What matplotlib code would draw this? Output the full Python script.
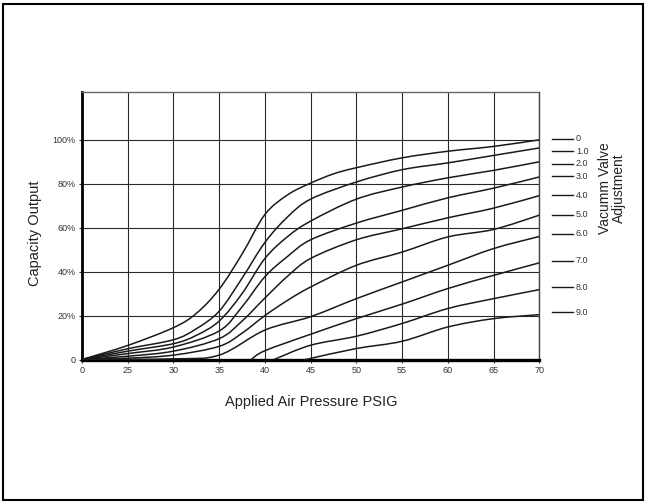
import numpy as np
import matplotlib
matplotlib.use("Agg")
from matplotlib import pyplot as plt
from matplotlib.patches import Rectangle, PathPatch
from matplotlib.path import Path

plt.rcParams['font.family'] = ['Liberation Sans', 'DejaVu Sans']

# Datos (presion en PSIG, capacidad en %)
press_ticks = [0, 25, 30, 35, 40, 45, 50, 55, 60, 65, 70]
pct_ticks = [0, 20, 40, 60, 80, 100]
pct_labels = ['0', '20%', '40%', '60%', '80%', '100%']
valve_names = ['0', '1.0', '2.0', '3.0', '4.0', '5.0', '6.0', '7.0', '8.0', '9.0']

c0_psi = [0, 25, 30, 32.5, 35, 37.5, 40, 42.5, 45, 47.5, 50, 55, 60, 65, 70]
c0_pct = [0, 6.4, 14.5, 21, 32, 48, 66, 75, 80.3, 84.5, 87.3, 91.8, 94.8, 97, 100]
c1_psi = [0, 25, 30, 32.5, 35, 37.5, 40, 42.5, 45, 50, 55, 60, 65, 70]
c1_pct = [0, 4.9, 9, 14, 22, 37, 53.3, 65, 73, 80.8, 86.4, 89.5, 92.9, 96.3]
c2_psi = [0, 25, 30, 32.5, 35, 37.5, 40, 42.5, 45, 50, 55, 60, 65, 70]
c2_pct = [0, 3.8, 7.2, 11, 17.5, 30, 46, 56, 63, 73, 78.5, 82.7, 86.1, 90]
c3_psi = [0, 25, 30, 35, 37.5, 40, 42.5, 45, 50, 55, 60, 65, 70]
c3_pct = [0, 2.7, 5.7, 13, 24, 37.7, 47, 54.5, 62.1, 67.9, 73.6, 78, 83.1]
c4_psi = [0, 25, 30, 35, 37.5, 40, 42.5, 45, 50, 55, 60, 65, 70]
c4_pct = [0, 1.5, 3.8, 9.5, 17.5, 28, 38, 46, 54.5, 59.5, 64.5, 68.9, 74.6]
c5_psi = [0, 25, 30, 35, 37.5, 40, 42.5, 45, 50, 55, 60, 65, 70]
c5_pct = [0, 0.6, 2, 6, 12, 20, 27, 33, 42.9, 48.9, 55.8, 59.2, 65.7]
c6_psi = [0, 30, 35, 40, 45, 50, 55, 60, 65, 70]
c6_pct = [0, 0.3, 2, 13.4, 19.5, 27.7, 35.3, 42.9, 50.5, 56]
c7_psi = [38.5, 40, 45, 50, 55, 60, 65, 70]
c7_pct = [0, 4, 11.5, 18.6, 25.2, 32.3, 38.3, 44]
c8_psi = [41, 45, 50, 55, 60, 65, 70]
c8_pct = [0, 6.5, 10.6, 16.4, 23.2, 27.7, 31.8]
c9_psi = [44.5, 45, 50, 55, 60, 65, 70]
c9_pct = [0, 0.5, 5, 8.3, 14.8, 18.6, 20.4]

curves = [(c0_psi, c0_pct), (c1_psi, c1_pct), (c2_psi, c2_pct), (c3_psi, c3_pct),
          (c4_psi, c4_pct), (c5_psi, c5_pct), (c6_psi, c6_pct), (c7_psi, c7_pct),
          (c8_psi, c8_pct), (c9_psi, c9_pct)]

# posicion vertical de cada etiqueta de la leyenda (en %)
legend_y = [100.5, 94.8, 89.0, 83.4, 74.7, 65.9, 57.2, 44.9, 32.9, 21.6]


# Escala del eje x: el tramo 0-25 ocupa lo mismo que cada paso de 5
def fwd(p):
    p = np.asarray(p, dtype=float)
    return np.where(p < 25, p / 25.0, 1 + (p - 25) / 5.0)


def inv(v):
    v = np.asarray(v, dtype=float)
    return np.where(v < 1, v * 25.0, 25 + (v - 1) * 5.0)


def curva_suave(psi, pct):
    # linea suavizada (tipo Excel) con curvas de Bezier entre los puntos leidos
    x = fwd(psi)
    y = np.asarray(pct, dtype=float)
    n = len(x)
    verts = [(x[0], y[0])]
    codes = [Path.MOVETO]
    for i in range(n - 1):
        xa, ya = (x[i - 1], y[i - 1]) if i > 0 else (x[i], y[i])
        xb, yb = (x[i + 2], y[i + 2]) if i + 2 < n else (x[i + 1], y[i + 1])
        c1 = (x[i] + (x[i + 1] - xa) / 6, y[i] + (y[i + 1] - ya) / 6)
        c2 = (x[i + 1] - (xb - x[i]) / 6, y[i + 1] - (yb - y[i]) / 6)
        verts += [c1, c2, (x[i + 1], y[i + 1])]
        codes += [Path.CURVE4] * 3
    verts = np.array(verts)
    verts[:, 0] = inv(verts[:, 0])
    return Path(verts, codes)


fig = plt.figure(figsize=(6.47, 5.04), dpi=100)
ax = fig.add_axes([82 / 647, 1 - 359.5 / 504, 457.3 / 647, 268 / 504])
ax.set_xscale('function', functions=(fwd, inv))

for psi, pct in curves:
    ax.add_patch(PathPatch(curva_suave(psi, pct), fill=False, ec='#1a1a1a', lw=1.1, zorder=3))

ax.set_xlim(0, 70)
ax.set_ylim(0, 122)
ax.set_xticks(press_ticks)
ax.set_xticklabels([str(p) for p in press_ticks])
ax.set_yticks(pct_ticks)
ax.set_yticklabels(pct_labels)
ax.grid(True, color='#2a2a2a', lw=0.8)
ax.set_axisbelow(True)

ax.tick_params(direction='out', length=2.5, width=0.8, labelsize=6.5, pad=2, colors='#333333')
ax.spines['left'].set_linewidth(2.0)
ax.spines['bottom'].set_linewidth(2.4)
ax.spines['top'].set_linewidth(1.0)
ax.spines['top'].set_color('#666666')
ax.spines['right'].set_linewidth(1.0)
ax.spines['right'].set_color('#444444')

# leyenda manual a la derecha
trans = ax.get_yaxis_transform()
for name, yv in zip(valve_names, legend_y):
    ax.plot([1.028, 1.074], [yv, yv], color='#1a1a1a', lw=1.0, transform=trans, clip_on=False)
    ax.text(1.080, yv, name, transform=trans, fontsize=6.5, va='center', ha='left', color='#333333')

fig.text(311 / 647, 1 - 402 / 504, 'Applied Air Pressure PSIG', fontsize=10.5,
         ha='center', va='center', color='#222222')
fig.text(35 / 647, 1 - 233 / 504, 'Capacity Output', fontsize=10.5, rotation=90,
         ha='center', va='center', color='#222222')
fig.text(612 / 647, 1 - 188 / 504, 'Vacumm Valve\nAdjustment', fontsize=10, rotation=90,
         ha='center', va='center', multialignment='center', linespacing=1.0, color='#222222')

# marco exterior
fig.patches.append(Rectangle((3 / 647, 4 / 504), 640 / 647, 496 / 504, transform=fig.transFigure,
                             fill=False, lw=1.5, ec='black'))

plt.savefig('out.png', dpi=100)
